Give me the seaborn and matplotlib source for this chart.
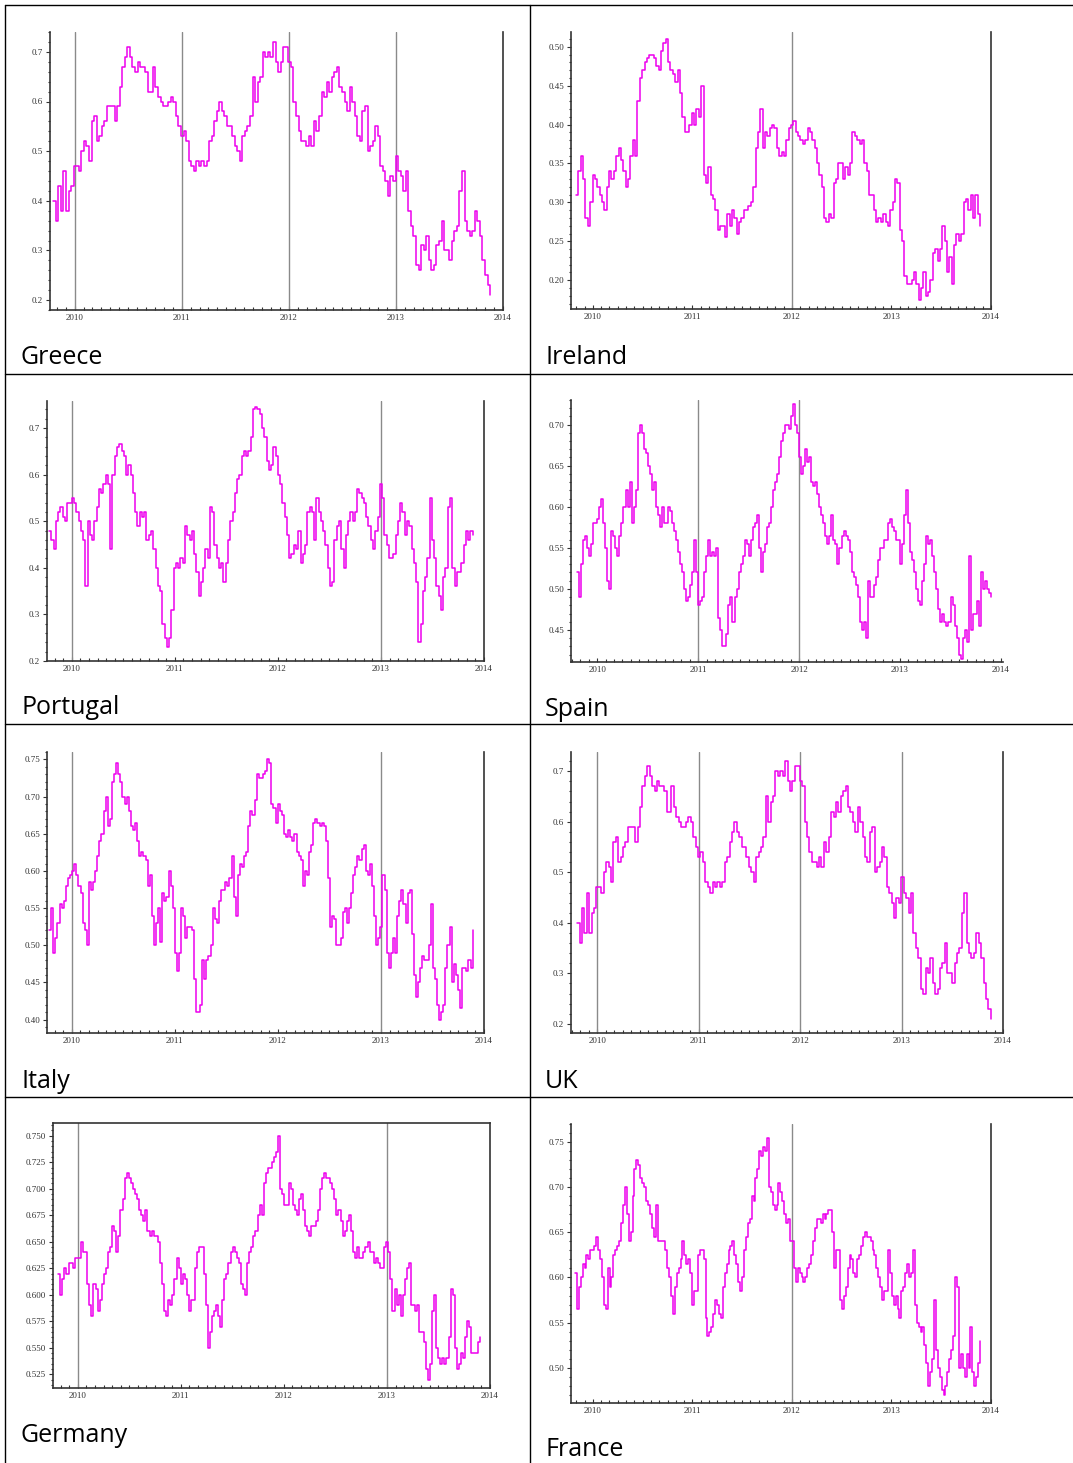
import numpy as np
import pandas as pd
import matplotlib
matplotlib.use('Agg')
import matplotlib.pyplot as plt
from matplotlib.lines import Line2D
from matplotlib.ticker import MultipleLocator, FormatStrFormatter
import seaborn as sns

# values (one list per country, evenly spaced in time)
greece = [0.40, 0.36, 0.43, 0.38, 0.46, 0.38, 0.42, 0.43, 0.47, 0.47, 0.46,
          0.50, 0.52, 0.51, 0.48, 0.56, 0.57, 0.52, 0.53, 0.55, 0.56, 0.59, 0.59, 0.59, 0.56, 0.59,
          0.63, 0.67, 0.69, 0.71, 0.69, 0.67, 0.66, 0.68, 0.67, 0.67, 0.66, 0.62, 0.62, 0.67, 0.63,
          0.61, 0.60, 0.59, 0.59, 0.60, 0.61, 0.60, 0.57, 0.55, 0.53, 0.54, 0.52, 0.48,
          0.47, 0.46, 0.48, 0.47, 0.48, 0.47, 0.48, 0.52, 0.53, 0.56, 0.58, 0.60, 0.58, 0.57, 0.55,
          0.55, 0.53, 0.51, 0.50, 0.48, 0.53, 0.54, 0.55, 0.57, 0.65, 0.60, 0.64, 0.65, 0.70, 0.69,
          0.70, 0.69, 0.72, 0.68, 0.66, 0.68, 0.71, 0.71, 0.68, 0.67,
          0.60, 0.57, 0.54, 0.52, 0.52, 0.51, 0.53, 0.51, 0.56, 0.54, 0.57, 0.62, 0.61, 0.64, 0.62,
          0.65, 0.66, 0.67, 0.63, 0.62, 0.60, 0.58, 0.63, 0.60, 0.57, 0.53, 0.52, 0.58, 0.59, 0.50,
          0.51, 0.52, 0.55, 0.53, 0.47, 0.46, 0.44, 0.41, 0.45, 0.44,
          0.49, 0.46, 0.45, 0.42, 0.46, 0.38, 0.35, 0.33, 0.27, 0.26, 0.31, 0.30, 0.33, 0.28, 0.26,
          0.27, 0.31, 0.32, 0.36, 0.30, 0.30, 0.28, 0.32, 0.34, 0.35, 0.42, 0.46, 0.36, 0.34, 0.33,
          0.34, 0.38, 0.36, 0.33, 0.28, 0.25, 0.23, 0.21]

ireland = [0.31, 0.34, 0.36, 0.33, 0.28, 0.27, 0.30, 0.335, 0.33, 0.32, 0.31, 0.30, 0.29, 0.32,
           0.34, 0.33, 0.34, 0.36, 0.37, 0.355, 0.34, 0.32, 0.33, 0.36, 0.38, 0.36, 0.43, 0.46,
           0.47, 0.48, 0.485, 0.49, 0.49, 0.485, 0.475, 0.47, 0.495, 0.505, 0.51, 0.48, 0.47,
           0.465, 0.455, 0.47, 0.44, 0.41, 0.39, 0.39, 0.40, 0.415, 0.40, 0.42, 0.41, 0.45,
           0.335, 0.325, 0.345, 0.31, 0.305, 0.29, 0.265, 0.27, 0.27, 0.255, 0.285, 0.27, 0.29,
           0.28, 0.26, 0.275, 0.28, 0.29, 0.29, 0.295, 0.30, 0.32, 0.37, 0.39, 0.42, 0.37, 0.39,
           0.385, 0.395, 0.40, 0.395, 0.37, 0.36, 0.365, 0.36, 0.38, 0.395, 0.40, 0.405,
           0.39, 0.385, 0.38, 0.375, 0.38, 0.395, 0.39, 0.38, 0.37, 0.35, 0.335, 0.32, 0.28,
           0.275, 0.285, 0.28, 0.325, 0.33, 0.35, 0.35, 0.33, 0.345, 0.335, 0.35, 0.39, 0.385,
           0.38, 0.375, 0.38, 0.35, 0.34, 0.31, 0.31, 0.29, 0.275, 0.28, 0.275, 0.285, 0.275,
           0.27, 0.29, 0.30, 0.33, 0.325,
           0.265, 0.25, 0.205, 0.195, 0.195, 0.20, 0.21, 0.195, 0.175, 0.19, 0.21, 0.18, 0.185,
           0.20, 0.235, 0.24, 0.225, 0.24, 0.27, 0.25, 0.21, 0.23, 0.195, 0.245, 0.26, 0.25,
           0.26, 0.30, 0.305, 0.29, 0.31, 0.28, 0.31, 0.285, 0.27]

portugal = [0.48, 0.46, 0.44, 0.50, 0.52, 0.53, 0.51, 0.50, 0.54, 0.54, 0.55, 0.54, 0.52, 0.50,
            0.48, 0.46, 0.36, 0.50, 0.47, 0.46, 0.50, 0.53, 0.57, 0.56, 0.58, 0.60, 0.58, 0.44,
            0.60, 0.64, 0.66, 0.665, 0.65, 0.64, 0.60, 0.62, 0.60, 0.56, 0.52, 0.49, 0.52, 0.51,
            0.52, 0.46, 0.47, 0.48, 0.44, 0.40, 0.36, 0.35, 0.28, 0.25, 0.23, 0.25, 0.31, 0.40,
            0.41, 0.40, 0.42, 0.41, 0.49, 0.47, 0.46, 0.48, 0.43, 0.39, 0.34, 0.37, 0.40, 0.44,
            0.42, 0.53, 0.52, 0.45, 0.42, 0.40, 0.41, 0.37, 0.41, 0.46, 0.50, 0.52, 0.56, 0.59,
            0.60, 0.64, 0.65, 0.64, 0.65, 0.68, 0.74, 0.745, 0.74, 0.73, 0.70, 0.68, 0.63, 0.61,
            0.62, 0.66, 0.64, 0.60, 0.58, 0.54, 0.51, 0.47, 0.42, 0.43, 0.45, 0.44, 0.48, 0.41,
            0.43, 0.45, 0.52, 0.53, 0.52, 0.46, 0.55, 0.52, 0.50, 0.48, 0.45, 0.40, 0.36, 0.37,
            0.46, 0.49, 0.50, 0.44, 0.40, 0.47, 0.50, 0.52, 0.50, 0.52, 0.57, 0.56, 0.55, 0.54,
            0.51, 0.49, 0.46, 0.44, 0.48, 0.51, 0.58, 0.55, 0.47, 0.45, 0.42, 0.42, 0.43, 0.47,
            0.50, 0.54, 0.52, 0.47, 0.50, 0.49, 0.44, 0.41, 0.37, 0.24, 0.28, 0.35, 0.38, 0.42,
            0.55, 0.46, 0.42, 0.36, 0.34, 0.31, 0.38, 0.40, 0.53, 0.55, 0.40, 0.36, 0.39, 0.39,
            0.41, 0.45, 0.48, 0.46, 0.48, 0.47]

spain = [0.52, 0.49, 0.53, 0.56, 0.565, 0.55, 0.54, 0.555, 0.58, 0.58, 0.585, 0.60, 0.61, 0.58,
         0.55, 0.51, 0.50, 0.57, 0.565, 0.55, 0.54, 0.565, 0.58, 0.60, 0.62, 0.60, 0.63, 0.58,
         0.60, 0.62, 0.69, 0.70, 0.69, 0.67, 0.665, 0.65, 0.64, 0.62, 0.63, 0.60, 0.59, 0.575,
         0.60, 0.58, 0.58, 0.60, 0.595, 0.58, 0.57, 0.56, 0.545, 0.53, 0.52, 0.50, 0.485, 0.49,
         0.505, 0.52, 0.56, 0.52, 0.48, 0.485, 0.49, 0.52, 0.54, 0.56, 0.54, 0.545, 0.54, 0.55,
         0.465, 0.45, 0.43, 0.43, 0.445, 0.48, 0.49, 0.46, 0.49, 0.50, 0.52, 0.53, 0.54, 0.56,
         0.555, 0.54, 0.56, 0.575, 0.58, 0.59, 0.55, 0.52, 0.545, 0.555, 0.575, 0.58, 0.60,
         0.62, 0.63, 0.64, 0.66, 0.68, 0.69, 0.70, 0.70, 0.695, 0.71, 0.725, 0.70, 0.69, 0.66,
         0.64, 0.65, 0.67, 0.655, 0.66, 0.63, 0.625, 0.63, 0.615, 0.60, 0.59, 0.58, 0.565,
         0.555, 0.565, 0.59, 0.56, 0.555, 0.53, 0.55, 0.565, 0.57, 0.565, 0.56, 0.545, 0.52,
         0.515, 0.505, 0.49, 0.46, 0.45, 0.46, 0.44, 0.51, 0.49, 0.49, 0.505, 0.515, 0.535,
         0.55, 0.55, 0.56, 0.56, 0.58, 0.585, 0.575, 0.57, 0.56, 0.56, 0.53, 0.555, 0.59, 0.62,
         0.58, 0.545, 0.535, 0.52, 0.50, 0.485, 0.48, 0.51, 0.53, 0.565, 0.555, 0.56, 0.54,
         0.52, 0.50, 0.475, 0.46, 0.47, 0.46, 0.455, 0.46, 0.49, 0.48, 0.455, 0.44, 0.42,
         0.415, 0.44, 0.45, 0.435, 0.54, 0.45, 0.47, 0.47, 0.485, 0.455, 0.52, 0.50, 0.51,
         0.50, 0.495, 0.49]

italy = [0.52, 0.55, 0.49, 0.51, 0.53, 0.555, 0.55, 0.56, 0.58, 0.59, 0.595, 0.60, 0.61, 0.595,
         0.58, 0.57, 0.53, 0.52, 0.50, 0.585, 0.575, 0.585, 0.60, 0.62, 0.64, 0.65, 0.68, 0.70,
         0.66, 0.67, 0.72, 0.73, 0.745, 0.73, 0.72, 0.70, 0.69, 0.70, 0.68, 0.66, 0.655, 0.665,
         0.64, 0.62, 0.625, 0.62, 0.615, 0.58, 0.595, 0.54, 0.50, 0.53, 0.55, 0.505, 0.57, 0.56,
         0.565, 0.60, 0.58, 0.55, 0.49, 0.465, 0.49, 0.55, 0.54, 0.51, 0.525, 0.525, 0.52,
         0.455, 0.41, 0.41, 0.42, 0.48, 0.455, 0.48, 0.485, 0.50, 0.55, 0.535, 0.53, 0.56,
         0.575, 0.575, 0.585, 0.58, 0.59, 0.62, 0.565, 0.54, 0.595, 0.61, 0.605, 0.62, 0.625,
         0.66, 0.68, 0.675, 0.695, 0.73, 0.725, 0.725, 0.73, 0.735, 0.75, 0.745, 0.69, 0.685,
         0.665, 0.69, 0.68, 0.675, 0.65, 0.645, 0.655, 0.645, 0.64, 0.65, 0.625, 0.62, 0.615,
         0.58, 0.60, 0.595, 0.625, 0.635, 0.665, 0.67, 0.665, 0.66, 0.665, 0.66, 0.64, 0.59,
         0.525, 0.54, 0.535, 0.50, 0.50, 0.51, 0.545, 0.55, 0.53, 0.55, 0.57, 0.595, 0.605,
         0.62, 0.615, 0.63, 0.635, 0.60, 0.595, 0.61, 0.58, 0.54, 0.50, 0.51, 0.525, 0.595,
         0.575, 0.49, 0.47, 0.49, 0.51, 0.49, 0.54, 0.56, 0.575, 0.555, 0.53, 0.57, 0.575,
         0.515, 0.46, 0.43, 0.45, 0.47, 0.485, 0.48, 0.48, 0.50, 0.555, 0.47, 0.455, 0.42,
         0.40, 0.41, 0.42, 0.47, 0.50, 0.525, 0.45, 0.475, 0.46, 0.44, 0.415, 0.47, 0.47,
         0.465, 0.48, 0.47, 0.52]

uk = list(greece)  # the UK panel in the source repeats the Greece series

germany = [0.62, 0.60, 0.615, 0.625, 0.62, 0.63, 0.63, 0.625, 0.635, 0.635, 0.635, 0.65,
           0.64, 0.64, 0.61, 0.59, 0.58, 0.61, 0.605, 0.585, 0.595, 0.61, 0.62, 0.625, 0.64,
           0.645, 0.665, 0.66, 0.64, 0.655, 0.68, 0.69, 0.71, 0.715, 0.71, 0.705, 0.70, 0.695,
           0.69, 0.68, 0.675, 0.67, 0.68, 0.66, 0.655, 0.66, 0.655, 0.655, 0.65, 0.63, 0.61,
           0.585, 0.58, 0.595, 0.59, 0.60, 0.615, 0.635, 0.625, 0.61, 0.62, 0.615, 0.60, 0.585,
           0.595, 0.595, 0.625, 0.64, 0.645, 0.645, 0.62, 0.59, 0.55, 0.565, 0.58, 0.585, 0.59,
           0.58, 0.57, 0.595, 0.615, 0.62, 0.63, 0.64, 0.645, 0.64, 0.635, 0.63, 0.61, 0.605,
           0.60, 0.63, 0.64, 0.645, 0.655, 0.66, 0.675, 0.685, 0.675, 0.705, 0.715, 0.72, 0.72,
           0.725, 0.73, 0.735, 0.75, 0.70, 0.695, 0.685, 0.685, 0.705, 0.70, 0.685, 0.68, 0.675,
           0.69, 0.695, 0.68, 0.665, 0.66, 0.655, 0.665, 0.665, 0.67, 0.68, 0.70, 0.71, 0.715,
           0.71, 0.71, 0.705, 0.70, 0.69, 0.675, 0.68, 0.67, 0.655, 0.66, 0.67, 0.675, 0.66,
           0.64, 0.635, 0.645, 0.635, 0.635, 0.64, 0.645, 0.65, 0.64, 0.64, 0.63, 0.635, 0.63,
           0.625, 0.625, 0.645, 0.65, 0.64, 0.615, 0.585, 0.605, 0.59, 0.60, 0.58, 0.60, 0.615,
           0.625, 0.63, 0.59, 0.59, 0.585, 0.59, 0.565, 0.565, 0.555, 0.53, 0.52, 0.535, 0.585,
           0.60, 0.55, 0.54, 0.535, 0.54, 0.535, 0.54, 0.56, 0.605, 0.60, 0.55, 0.53, 0.535,
           0.545, 0.54, 0.56, 0.575, 0.57, 0.545, 0.545, 0.545, 0.555, 0.56]

france = [0.605, 0.565, 0.59, 0.60, 0.615, 0.61, 0.625, 0.62, 0.63, 0.63, 0.635, 0.645, 0.63,
          0.62, 0.60, 0.57, 0.565, 0.61, 0.59, 0.60, 0.625, 0.63, 0.635, 0.64, 0.66, 0.68, 0.70,
          0.67, 0.64, 0.65, 0.69, 0.72, 0.73, 0.725, 0.71, 0.705, 0.70, 0.685, 0.68, 0.67, 0.655,
          0.645, 0.68, 0.64, 0.64, 0.64, 0.64, 0.63, 0.61, 0.60, 0.58, 0.56, 0.59, 0.605, 0.61,
          0.62, 0.64, 0.625, 0.615, 0.62, 0.605, 0.57, 0.585, 0.585, 0.625, 0.63, 0.63, 0.62,
          0.555, 0.535, 0.54, 0.545, 0.56, 0.575, 0.57, 0.56, 0.555, 0.59, 0.605, 0.615, 0.63,
          0.635, 0.64, 0.625, 0.615, 0.595, 0.585, 0.60, 0.63, 0.645, 0.66, 0.665, 0.69, 0.685,
          0.71, 0.72, 0.74, 0.735, 0.745, 0.74, 0.755, 0.70, 0.695, 0.68, 0.675, 0.68, 0.705,
          0.695, 0.685, 0.67, 0.66, 0.665, 0.64, 0.64, 0.61, 0.595, 0.61, 0.605, 0.60, 0.595,
          0.60, 0.61, 0.615, 0.625, 0.64, 0.655, 0.665, 0.665, 0.66, 0.67, 0.665, 0.67, 0.675,
          0.675, 0.65, 0.61, 0.63, 0.63, 0.575, 0.565, 0.58, 0.59, 0.61, 0.625, 0.62, 0.605,
          0.60, 0.62, 0.625, 0.635, 0.645, 0.65, 0.645, 0.645, 0.64, 0.63, 0.625, 0.61, 0.60,
          0.59, 0.575, 0.585, 0.585, 0.63, 0.605, 0.58, 0.57, 0.58, 0.565, 0.555, 0.585, 0.59,
          0.605, 0.615, 0.60, 0.605, 0.63, 0.57, 0.55, 0.545, 0.54, 0.545, 0.525, 0.505, 0.48,
          0.495, 0.51, 0.575, 0.52, 0.50, 0.49, 0.475, 0.47, 0.48, 0.495, 0.51, 0.52, 0.535,
          0.60, 0.59, 0.50, 0.515, 0.50, 0.49, 0.515, 0.50, 0.545, 0.495, 0.48, 0.49, 0.505,
          0.53]

# first and last observation of each series (decimal years)
greece_span = (2009.80, 2013.88)
ireland_span = (2009.83, 2013.89)
portugal_span = (2009.78, 2013.89)
spain_span = (2009.80, 2013.90)
italy_span = (2009.78, 2013.89)
uk_span = (2009.80, 2013.88)
germany_span = (2009.81, 2013.90)
france_span = (2009.82, 2013.89)

years = [2010, 2011, 2012, 2013, 2014]

sns.set_style('ticks')
plt.rcParams['font.family'] = ['Liberation Serif', 'DejaVu Serif']

W, H = 1073, 1463
fig = plt.figure(figsize=(W / 100, H / 100), dpi=100)

def px_axes(l, t, r, b):
    return fig.add_axes([l / W, 1 - b / H, (r - l) / W, (b - t) / H])

# name, values, span, box (l,t,r,b px), xlim, ylim, ystep, minor, fmt, year lines, right line, frame, label pos
panels = [
    ('Greece', greece, greece_span, (50, 32, 503, 310), (2009.77, 2014.0), (0.18, 0.74), 0.1, 0.02, '%.1f',
     [2010, 2011, 2012, 2013], True, False, (20, 364)),
    ('Ireland', ireland, ireland_span, (571, 32, 991, 309), (2009.78, 2014.0), (0.163, 0.519), 0.05, 0.01, '%.2f',
     [2012], True, False, (545, 364)),
    ('Portugal', portugal, portugal_span, (47, 401, 484, 661), (2009.76, 2014.0), (0.20, 0.758), 0.1, 0.02, '%.1f',
     [2010, 2013], True, False, (21, 714)),
    ('Spain', spain, spain_span, (571, 400, 1003, 662), (2009.74, 2014.02), (0.411, 0.73), 0.05, 0.01, '%.2f',
     [2011, 2012], False, False, (545, 716)),
    ('Italy', italy, italy_span, (47, 752, 484, 1033), (2009.76, 2014.0), (0.382, 0.76), 0.05, 0.01, '%.2f',
     [2010, 2013], True, False, (21, 1088)),
    ('UK', uk, uk_span, (571, 752, 1003, 1033), (2009.74, 2014.0), (0.182, 0.738), 0.1, 0.02, '%.1f',
     [2010, 2011, 2012, 2013], True, False, (545, 1088)),
    ('Germany', germany, germany_span, (53, 1123, 490, 1388), (2009.76, 2014.0), (0.512, 0.762), 0.025, 0.005, '%.3f',
     [2010, 2013], True, True, (21, 1442)),
    ('France', france, france_span, (571, 1124, 991, 1403), (2009.78, 2014.0), (0.461, 0.770), 0.05, 0.01, '%.2f',
     [2012], True, False, (545, 1456)),
]

line_color = '#ee00ee'
axis_color = '#333333'

for name, vals, span, box, xlim, ylim, ystep, yminor, fmt, vyears, right, frame, lab in panels:
    ax = px_axes(*box)
    df = pd.DataFrame({'t': np.linspace(span[0], span[1], len(vals)), 'v': vals})
    sns.lineplot(data=df, x='t', y='v', ax=ax, color=line_color, lw=1.1,
                 drawstyle='steps-post', estimator=None, zorder=3)
    for yr in vyears:
        ax.axvline(yr, color='#8a8a8a', lw=1.0, zorder=1)
    ax.set_xlim(*xlim)
    ax.set_ylim(*ylim)
    ax.set_xlabel('')
    ax.set_ylabel('')
    ax.set_xticks(years)
    ax.set_xticklabels([str(y) for y in years])
    ax.xaxis.set_minor_locator(MultipleLocator(1 / 12))
    ax.yaxis.set_major_locator(MultipleLocator(ystep))
    ax.yaxis.set_minor_locator(MultipleLocator(yminor))
    ax.yaxis.set_major_formatter(FormatStrFormatter(fmt))
    ax.tick_params(axis='x', which='major', direction='in', length=3, width=0.8, bottom=True,
                   labelsize=6.5, pad=3, colors=axis_color)
    ax.tick_params(axis='x', which='minor', direction='in', length=2, width=0.8, bottom=True,
                   colors=axis_color)
    ax.tick_params(axis='y', which='major', direction='out', length=3, width=0.8, left=True,
                   labelsize=6.5, pad=2, colors=axis_color)
    ax.tick_params(axis='y', which='minor', direction='out', length=1.5, width=0.8, left=True,
                   colors=axis_color)
    for side in ['left', 'bottom']:
        ax.spines[side].set_color(axis_color)
        ax.spines[side].set_linewidth(1.2)
    ax.spines['right'].set_visible(right)
    ax.spines['right'].set_color(axis_color)
    ax.spines['right'].set_linewidth(1.2)
    ax.spines['top'].set_visible(frame)
    ax.spines['top'].set_color(axis_color)
    ax.spines['top'].set_linewidth(1.2)
    ax.grid(False)
    fig.text(lab[0] / W, 1 - lab[1] / H, name, fontsize=18, family=['Open Sans', 'DejaVu Sans'],
             ha='left', va='baseline', color='black')

# table borders
def hline(y, x0=5, x1=1073):
    fig.add_artist(Line2D([x0 / W, x1 / W], [1 - y / H, 1 - y / H], transform=fig.transFigure,
                          color='black', lw=1.0))

def vline(x, y0=5, y1=1463):
    fig.add_artist(Line2D([x / W, x / W], [1 - y0 / H, 1 - y1 / H], transform=fig.transFigure,
                          color='black', lw=1.0))

for y in [5, 374, 724, 1097]:
    hline(y)
for x in [5, 530]:
    vline(x)

fig.savefig('out.png', dpi=100)
